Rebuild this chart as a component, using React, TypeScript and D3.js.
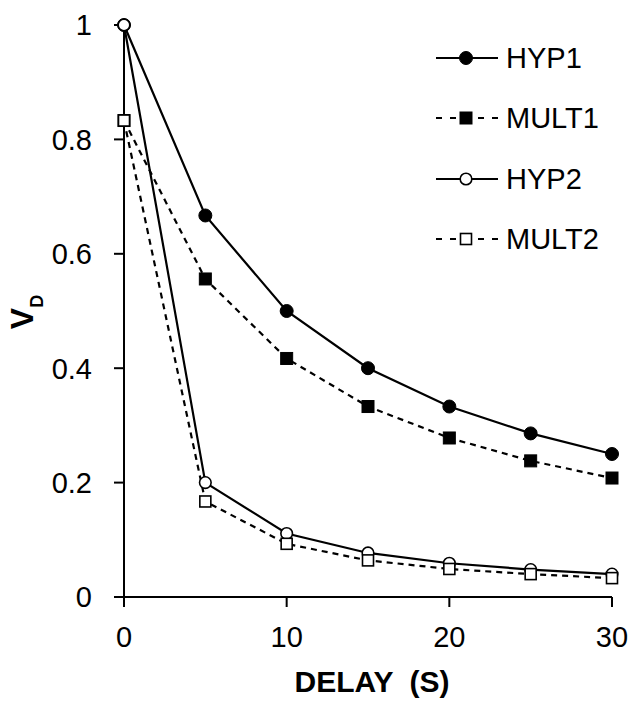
import React from "react";
import * as d3 from "d3";

const delays = [0, 5, 10, 15, 20, 25, 30];
const hyp1 = [1, 0.667, 0.5, 0.4, 0.333, 0.286, 0.25];
const mult1 = [0.833, 0.556, 0.417, 0.333, 0.278, 0.238, 0.208];
const hyp2 = [1, 0.2, 0.111, 0.077, 0.059, 0.048, 0.04];
const mult2 = [0.833, 0.167, 0.093, 0.064, 0.049, 0.04, 0.033];
const xTicks = [0, 10, 20, 30];
const yTicks = [0, 0.2, 0.4, 0.6, 0.8, 1];
const yTickLabels = ["0", "0.2", "0.4", "0.6", "0.8", "1"];

type S = { name: string; values: number[]; shape: "circle" | "square"; filled: boolean; dashed: boolean };
const series: S[] = [
  { name: "HYP1", values: hyp1, shape: "circle", filled: true, dashed: false },
  { name: "MULT1", values: mult1, shape: "square", filled: true, dashed: true },
  { name: "HYP2", values: hyp2, shape: "circle", filled: false, dashed: false },
  { name: "MULT2", values: mult2, shape: "square", filled: false, dashed: true },
];

const W = 631, H = 701;
const x = d3.scaleLinear().domain([0, 30]).range([124, 612]);
const y = d3.scaleLinear().domain([0, 1]).range([597, 25]);
const font = "Liberation Sans, Arial, sans-serif";

function Marker({ s, cx, cy }: { s: S; cx: number; cy: number }) {
  const fill = s.filled ? "#000" : "#fff";
  if (s.shape === "circle")
    return <circle cx={cx} cy={cy} r={s.filled ? 6.5 : 5.8} fill={fill} stroke="#000" strokeWidth={s.filled ? 1 : 1.6} />;
  const h = s.filled ? 6 : 5.5;
  return <rect x={cx - h} y={cy - h} width={2 * h} height={2 * h} fill={fill} stroke="#000" strokeWidth={s.filled ? 1 : 1.6} />;
}

export default function App() {
  const line = d3.line<number>().x((_, i) => x(delays[i])).y((v) => y(v));
  const legendY = [58, 118, 179, 239];
  return (
    <svg width={W} height={H} style={{ position: "absolute", left: 0, top: 0, background: "#fff" }}>
      <rect width={W} height={H} fill="#fff" />
      <line x1={x(0)} x2={x(0)} y1={y(0)} y2={y(1)} stroke="#000" strokeWidth={2} />
      <line x1={x(0)} x2={x(30)} y1={y(0)} y2={y(0)} stroke="#000" strokeWidth={2} />
      {yTicks.map((t, i) => (
        <g key={"y" + t}>
          <line x1={x(0) - 10} x2={x(0)} y1={y(t)} y2={y(t)} stroke="#000" strokeWidth={2} />
          <text x={92} y={y(t)} dy="0.36em" textAnchor="end" fontFamily={font} fontSize={29} fill="#000">
            {yTickLabels[i]}
          </text>
        </g>
      ))}
      {xTicks.map((t) => (
        <g key={"x" + t}>
          <line x1={x(t)} x2={x(t)} y1={y(0)} y2={y(0) + 10} stroke="#000" strokeWidth={2} />
          <text x={x(t)} y={647} textAnchor="middle" fontFamily={font} fontSize={29} fill="#000">
            {t}
          </text>
        </g>
      ))}
      <text x={372} y={692} textAnchor="middle" fontFamily={font} fontSize={30} fontWeight="bold" fill="#000" style={{ whiteSpace: "pre" }}>
        {"DELAY  (S)"}
      </text>
      <text transform="translate(33,312) rotate(-90)" textAnchor="middle" fontFamily={font} fontSize={32} fontWeight="bold" fill="#000">
        V<tspan fontSize={18} dy={10}>D</tspan>
      </text>
      {series.map((s) => (
        <path key={"l" + s.name} d={line(s.values) || ""} fill="none" stroke="#000" strokeWidth={2.2} strokeDasharray={s.dashed ? "6,5" : undefined} />
      ))}
      {series.map((s) => (
        <g key={"m" + s.name}>
          {s.values.map((v, i) => (
            <Marker key={i} s={s} cx={x(delays[i])} cy={y(v)} />
          ))}
        </g>
      ))}
      {series.map((s, i) => (
        <g key={"lg" + s.name}>
          <line x1={436} x2={498} y1={legendY[i]} y2={legendY[i]} stroke="#000" strokeWidth={2} strokeDasharray={s.dashed ? "6,8" : undefined} />
          <Marker s={s} cx={466} cy={legendY[i]} />
          <text x={506} y={legendY[i]} dy="0.36em" fontFamily={font} fontSize={29} fill="#000">
            {s.name}
          </text>
        </g>
      ))}
    </svg>
  );
}
